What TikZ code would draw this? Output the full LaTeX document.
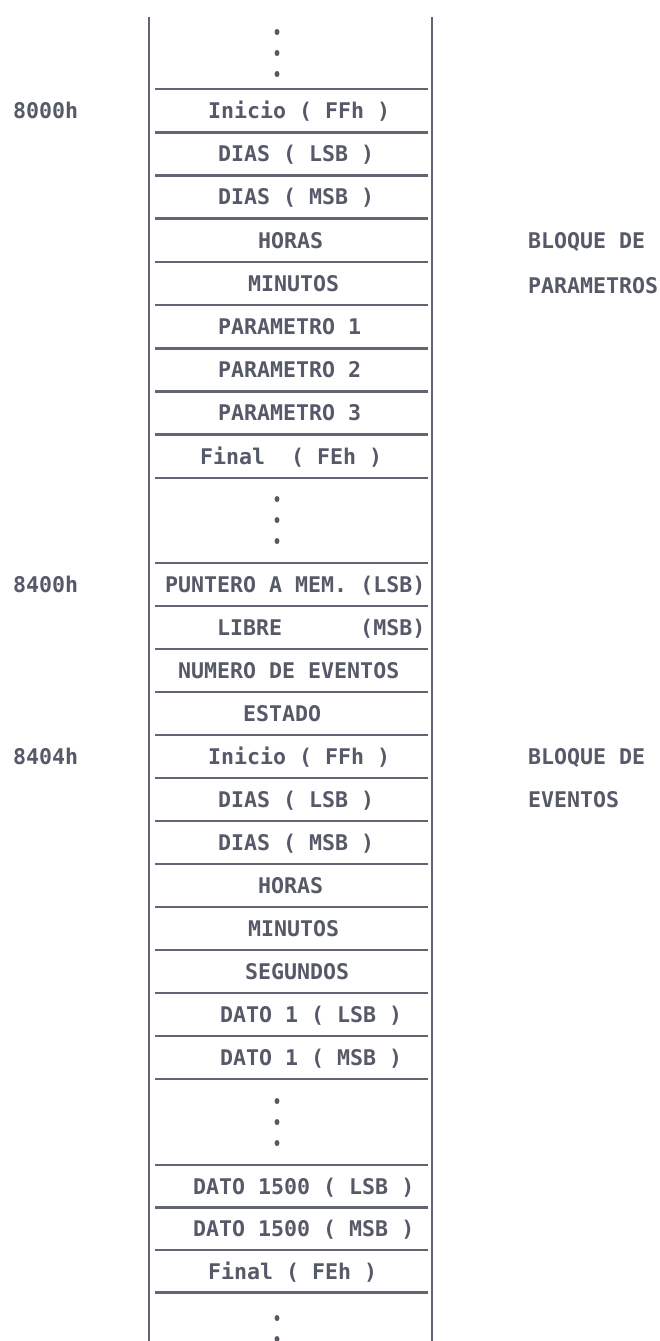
\documentclass[tikz,border=0pt]{standalone}
\usepackage{fontspec}
\newfontfamily\memfont{DejaVu Sans Mono}
\definecolor{ink}{RGB}{86,90,104}
\definecolor{rulecol}{RGB}{98,102,114}
\begin{document}
\begin{tikzpicture}[x=1pt,y=-1pt,
  lbl/.style={anchor=base west, inner sep=0pt, text=ink,
    font=\memfont\bfseries\fontsize{21.6}{24}\selectfont},
  sepline/.style={draw=rulecol, line width=2.6pt},
  wall/.style={draw=rulecol, line width=2pt},
  dotmark/.style={fill=ink}
]
\useasboundingbox (0,0) rectangle (660,1341);
% walls
\coordinate (lt) at (148.5,17);  \coordinate (lb) at (148.5,1341);
\coordinate (rt) at (431.5,17);  \coordinate (rb) at (431.5,1341);
\draw[wall] (lt) -- (lb);
\draw[wall] (rt) -- (rb);
% separators
\foreach \k in {0,...,9}{
  \draw[sepline] (155,{89+43.2*\k}) -- (428,{89+43.2*\k});
}
\foreach \k in {0,...,12}{
  \draw[sepline] (155,{563+43*\k}) -- (428,{563+43*\k});
}
\foreach \k in {0,...,3}{
  \draw[sepline] (155,{1165+42.5*\k}) -- (428,{1165+42.5*\k});
}
% dots
\foreach \y in {32,53,74, 499,520,541, 1101,1122,1143, 1318,1339}{
  \fill[dotmark] (277,\y) ellipse (2.5pt and 3pt);
}
% block A
\node[lbl] (a1) at (208,118.4) {Inicio ( FFh )};
\node[lbl] (a2) at (218,161.6) {DIAS ( LSB )};
\node[lbl] (a3) at (218,204.8) {DIAS ( MSB )};
\node[lbl] (a4) at (258,248.0) {HORAS};
\node[lbl] (a5) at (248,291.2) {MINUTOS};
\node[lbl] (a6) at (218,334.4) {PARAMETRO 1};
\node[lbl] (a7) at (218,377.6) {PARAMETRO 2};
\node[lbl] (a8) at (218,420.8) {PARAMETRO 3};
\node[lbl] (a9) at (200,464.0) {Final~~( FEh )};
% block B
\node[lbl] (b1) at (165,592.3) {PUNTERO A MEM. (LSB)};
\node[lbl] (b2) at (217,635.3) {LIBRE~~~~~~(MSB)};
\node[lbl] (b3) at (178,678.3) {NUMERO DE EVENTOS};
\node[lbl] (b4) at (243,721.3) {ESTADO};
\node[lbl] (b5) at (208,764.3) {Inicio ( FFh )};
\node[lbl] (b6) at (218,807.3) {DIAS ( LSB )};
\node[lbl] (b7) at (218,850.3) {DIAS ( MSB )};
\node[lbl] (b8) at (258,893.3) {HORAS};
\node[lbl] (b9) at (248,936.3) {MINUTOS};
\node[lbl] (b10) at (245,979.3) {SEGUNDOS};
\node[lbl] (b11) at (220,1022.3) {DATO 1 ( LSB )};
\node[lbl] (b12) at (220,1065.3) {DATO 1 ( MSB )};
% block C
\node[lbl] (c1) at (193,1194.0) {DATO 1500 ( LSB )};
\node[lbl] (c2) at (193,1236.5) {DATO 1500 ( MSB )};
\node[lbl] (c3) at (208,1279.0) {Final ( FEh )};
% addresses
\node[lbl] (ad1) at (13,118.4) {8000h};
\node[lbl] (ad2) at (13,592.3) {8400h};
\node[lbl] (ad3) at (13,764.3) {8404h};
% block labels
\node[lbl] (p1) at (528,248.0) {BLOQUE DE};
\node[lbl] (p2) at (528,293.0) {PARAMETROS};
\node[lbl] (e1) at (528,764.3) {BLOQUE DE};
\node[lbl] (e2) at (528,807.3) {EVENTOS};
\end{tikzpicture}
\end{document}
